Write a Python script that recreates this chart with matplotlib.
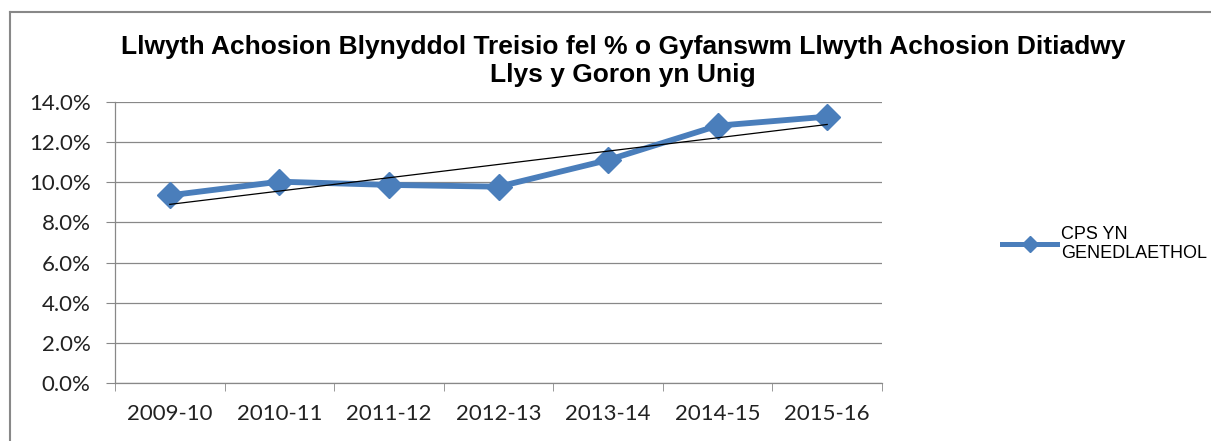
import matplotlib
matplotlib.use("Agg")
import matplotlib.pyplot as plt
import numpy as np
from matplotlib.lines import Line2D

categories = ["2009-10", "2010-11", "2011-12", "2012-13", "2013-14", "2014-15", "2015-16"]
values = [9.35, 10.03, 9.87, 9.78, 11.11, 12.82, 13.27]
yticks = [0, 2, 4, 6, 8, 10, 12, 14]
series_name = "CPS YN\nGENEDLAETHOL"
title_lines = ["Llwyth Achosion Blynyddol Treisio fel % o Gyfanswm Llwyth Achosion Ditiadwy",
               "Llys y Goron yn Unig"]

fig = plt.figure(figsize=(12.11, 4.41), dpi=100)
ax = fig.add_axes([115/1211, 58/441, (882-115)/1211, (383-102)/441])

x = np.arange(len(categories))
blue = "#4A7EBB"
ax.plot(x, values, color=blue, lw=4.2, marker="D", markersize=13, zorder=3)

coef = np.polyfit(x, values, 1)
ax.plot(x, np.polyval(coef, x), color="black", lw=0.9, zorder=4)

ax.set_xlim(-0.5, len(categories) - 0.5)
ax.set_ylim(0, 14)
ax.set_yticks(yticks)
ax.set_yticklabels([f"{v:.1f}%" for v in yticks], fontsize=16, family="Lato", color="#222222")
ax.set_xticks(x)
ax.set_xticklabels(categories, fontsize=16, family="Lato", color="#222222")
ax.tick_params(axis="x", length=0, pad=15)
ax.tick_params(axis="y", length=6.5, color="#888888", pad=11)
ax.set_xticks(np.arange(len(categories) + 1) - 0.5, minor=True)
ax.tick_params(axis="x", which="minor", length=6, color="#888888")
ax.grid(axis="y", color="#888888", lw=0.9)
ax.set_axisbelow(True)
for s in ["top", "right"]:
    ax.spines[s].set_visible(False)
for s in ["left", "bottom"]:
    ax.spines[s].set_color("#888888")
    ax.spines[s].set_linewidth(0.9)

for line, ypix in zip(title_lines, [47, 75]):
    fig.text(623/1211, 1 - ypix/441, line, ha="center", va="center", fontsize=19,
             fontweight="bold", family="Liberation Sans")

# legend
leg_handle = Line2D([0], [0], color=blue, lw=3.6, marker="D", markersize=8)
fig.legend([leg_handle], [series_name], loc="center left",
           bbox_to_anchor=(997/1211, 1 - 244/441), frameon=False,
           prop={"family": "Liberation Sans", "size": 13},
           handlelength=3.0, handletextpad=0.25, borderaxespad=0, borderpad=0.3)

# outer frame
fig.add_artist(Line2D([10/1211, 10/1211], [0, 1 - 12/441], transform=fig.transFigure,
                      color="#888888", lw=1.5))
fig.add_artist(Line2D([10/1211, 1], [1 - 12/441, 1 - 12/441], transform=fig.transFigure,
                      color="#888888", lw=1.5))

fig.savefig("out.png", dpi=100)
